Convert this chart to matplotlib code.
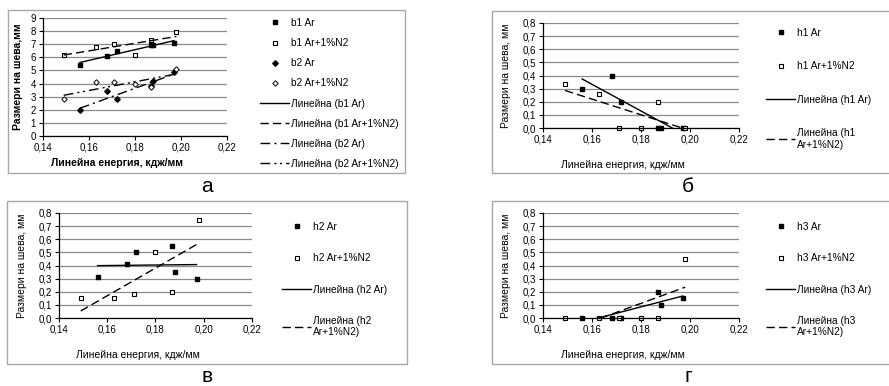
import numpy as np
import matplotlib
matplotlib.use("Agg")
import matplotlib.pyplot as plt
from matplotlib.patches import Rectangle

plt.rcParams['font.family'] = ['Liberation Sans', 'DejaVu Sans']

# ---------------- data ----------------
x_ar = [0.156, 0.168, 0.172, 0.187, 0.188, 0.197]
x_n2 = [0.149, 0.163, 0.171, 0.180, 0.187, 0.198]

b1_ar = [5.45, 6.10, 6.45, 6.95, 6.95, 7.10]
b1_n2 = [6.20, 6.80, 7.05, 6.20, 7.30, 7.95]
b2_ar = [1.95, 3.45, 2.83, 3.80, 4.20, 4.85]
b2_n2 = [2.80, 4.10, 4.10, 3.95, 3.70, 5.10]

h1_ar = [0.30, 0.40, 0.20, 0.00, 0.00, 0.00]
h1_n2 = [0.335, 0.26, 0.00, 0.00, 0.20, 0.00]

h2_ar = [0.31, 0.41, 0.50, 0.55, 0.35, 0.30]
h2_n2 = [0.155, 0.155, 0.185, 0.50, 0.20, 0.75]

h3_ar = [0.00, 0.00, 0.00, 0.20, 0.10, 0.15]
h3_n2 = [0.00, 0.00, 0.00, 0.00, 0.00, 0.45]

x_ticks = [0.14, 0.16, 0.18, 0.20, 0.22]
x_ticklabels = ['0,14', '0,16', '0,18', '0,20', '0,22']
ya_ticks = [0, 1, 2, 3, 4, 5, 6, 7, 8, 9]
ya_ticklabels = ['0', '1', '2', '3', '4', '5', '6', '7', '8', '9']
yh_ticks = [0.0, 0.1, 0.2, 0.3, 0.4, 0.5, 0.6, 0.7, 0.8]
yh_ticklabels = ['0,0', '0,1', '0,2', '0,3', '0,4', '0,5', '0,6', '0,7', '0,8']

xlabel = 'Линейна енергия, кдж/мм'
ylabel_a = 'Размери на шева,мм'
ylabel_h = 'Размери на шева, мм'
panel_letters = ['а', 'б', 'в', 'г']

# ---------------- layout helpers ----------------
W, H = 889, 386
fig = plt.figure(figsize=(W / 100, H / 100), dpi=100)


def rect(x0, y0, x1, y1):
    return [x0 / W, 1 - y1 / H, (x1 - x0) / W, (y1 - y0) / H]


def fx(x):
    return x / W


def fy(y):
    return 1 - y / H


GRID = '#8a8a8a'
FRAME = '#a8a8a8'
TICK_FS = 7
LAB_FS = 7.5
LEG_FS = 7.3
MS_SQ = 3.0
MS_D = 2.8

# frames (chart borders)
for (x0, y0, x1, y1) in [(8, 10, 405, 173), (492, 11, 892, 173),
                         (7, 201, 407, 364), (492, 201, 892, 364)]:
    fig.patches.append(Rectangle((fx(x0), fy(y1)), (x1 - x0) / W, (y1 - y0) / H,
                                 transform=fig.transFigure, fill=False,
                                 edgecolor=FRAME, linewidth=1.0))


def style_axes(ax, yticks, yticklabels, ymax):
    ax.set_xlim(0.14, 0.22)
    ax.set_ylim(0, ymax)
    ax.set_xticks(x_ticks)
    ax.set_xticklabels(x_ticklabels, fontsize=TICK_FS)
    ax.set_yticks(yticks)
    ax.set_yticklabels(yticklabels, fontsize=TICK_FS)
    for s in ['top', 'right']:
        ax.spines[s].set_visible(False)
    for s in ['left', 'bottom']:
        ax.spines[s].set_color('black')
        ax.spines[s].set_linewidth(0.9)
    ax.tick_params(direction='out', length=3, width=0.8, pad=2, colors='black')
    ax.yaxis.grid(True, color=GRID, linewidth=0.9)
    ax.set_axisbelow(True)
    ax.set_facecolor('none')


def trend(ax, x, y, ls):
    k, b = np.polyfit(x, y, 1)
    xs = np.array([min(x), max(x)])
    return ax.plot(xs, k * xs + b, color='black', linewidth=1.0, linestyle=ls)[0]


SOLID = '-'
DASH = (0, (6, 3))
DASHDOT = (0, (7, 3, 1.5, 3))
DASHDOTDOT = (0, (7, 3, 1.5, 2.5, 1.5, 3))

# ---------------- panel а ----------------
ax = fig.add_axes(rect(43, 18, 227, 136))
style_axes(ax, ya_ticks, ya_ticklabels, 9)
m1, = ax.plot(x_ar, b1_ar, 's', color='black', markersize=MS_SQ, linestyle='none')
m2, = ax.plot(x_n2, b1_n2, 's', markerfacecolor='white', markeredgecolor='black',
              markeredgewidth=0.8, markersize=MS_SQ, linestyle='none')
m3, = ax.plot(x_ar, b2_ar, 'D', color='black', markersize=MS_D, linestyle='none')
m4, = ax.plot(x_n2, b2_n2, 'D', markerfacecolor='white', markeredgecolor='black',
              markeredgewidth=0.7, markersize=MS_D, linestyle='none')
l1 = trend(ax, x_ar, b1_ar, SOLID)
l2 = trend(ax, x_n2, b1_n2, DASH)
l3 = trend(ax, x_ar, b2_ar, DASHDOT)
l4 = trend(ax, x_n2, b2_n2, DASHDOTDOT)
ax.set_xlabel(xlabel, fontsize=LAB_FS, fontweight='bold')
ax.xaxis.set_label_coords(0.40, -0.19)
ax.set_ylabel(ylabel_a, fontsize=LAB_FS, fontweight='bold')
ax.yaxis.set_label_coords(-0.11, 0.5)
fig.legend([m1, m2, m3, m4, l1, l2, l3, l4],
           ['b1 Ar', 'b1 Ar+1%N2', 'b2 Ar', 'b2 Ar+1%N2',
            'Линейна (b1 Ar)', 'Линейна (b1 Ar+1%N2)', 'Линейна (b2 Ar)',
            'Линейна (b2 Ar+1%N2)'],
           loc='upper left', bbox_to_anchor=(fx(260), fy(18)), frameon=False,
           fontsize=LEG_FS, numpoints=1, handlelength=2.9, handletextpad=0.2,
           labelspacing=1.0, borderpad=0, borderaxespad=0)

# ---------------- h panels ----------------
h_specs = [
    (h1_ar, h1_n2, 'h1', (543, 23, 739, 128), (766, 28), 2.3, (688, 187)),
    (h2_ar, h2_n2, 'h2', (59, 213, 252, 318), (282, 222), 2.1, (207, 377)),
    (h3_ar, h3_n2, 'h3', (543, 213, 739, 318), (766, 222), 2.1, (688, 377)),
]

for (ya, yn, name, box, legpos, lspace, letpos) in h_specs:
    ax = fig.add_axes(rect(*box))
    style_axes(ax, yh_ticks, yh_ticklabels, 0.8)
    ma, = ax.plot(x_ar, ya, 's', color='black', markersize=MS_SQ, linestyle='none', clip_on=False)
    mn, = ax.plot(x_n2, yn, 's', markerfacecolor='white', markeredgecolor='black',
                  markeredgewidth=0.8, markersize=MS_SQ, linestyle='none', clip_on=False)
    la = trend(ax, x_ar, ya, SOLID)
    ln = trend(ax, x_n2, yn, DASH)
    ax.set_xlabel(xlabel, fontsize=LAB_FS)
    ax.xaxis.set_label_coords(0.41, -0.30)
    ax.set_ylabel(ylabel_h, fontsize=LAB_FS)
    ax.yaxis.set_label_coords(-0.165, 0.5)
    fig.legend([ma, mn, la, ln],
               [f'{name} Ar', f'{name} Ar+1%N2', f'Линейна ({name} Ar)',
                f'Линейна ({name}\nAr+1%N2)'],
               loc='upper left', bbox_to_anchor=(fx(legpos[0]), fy(legpos[1])),
               frameon=False, fontsize=LEG_FS, numpoints=1, handlelength=2.9,
               handletextpad=0.2, labelspacing=lspace, borderpad=0, borderaxespad=0)

# panel letters
for letter, (x, y) in zip(panel_letters,
                          [(207, 187), (688, 187), (207, 377), (688, 377)]):
    fig.text(fx(x), fy(y), letter, fontsize=15, ha='center', va='center')

fig.savefig('out.png', dpi=100)
